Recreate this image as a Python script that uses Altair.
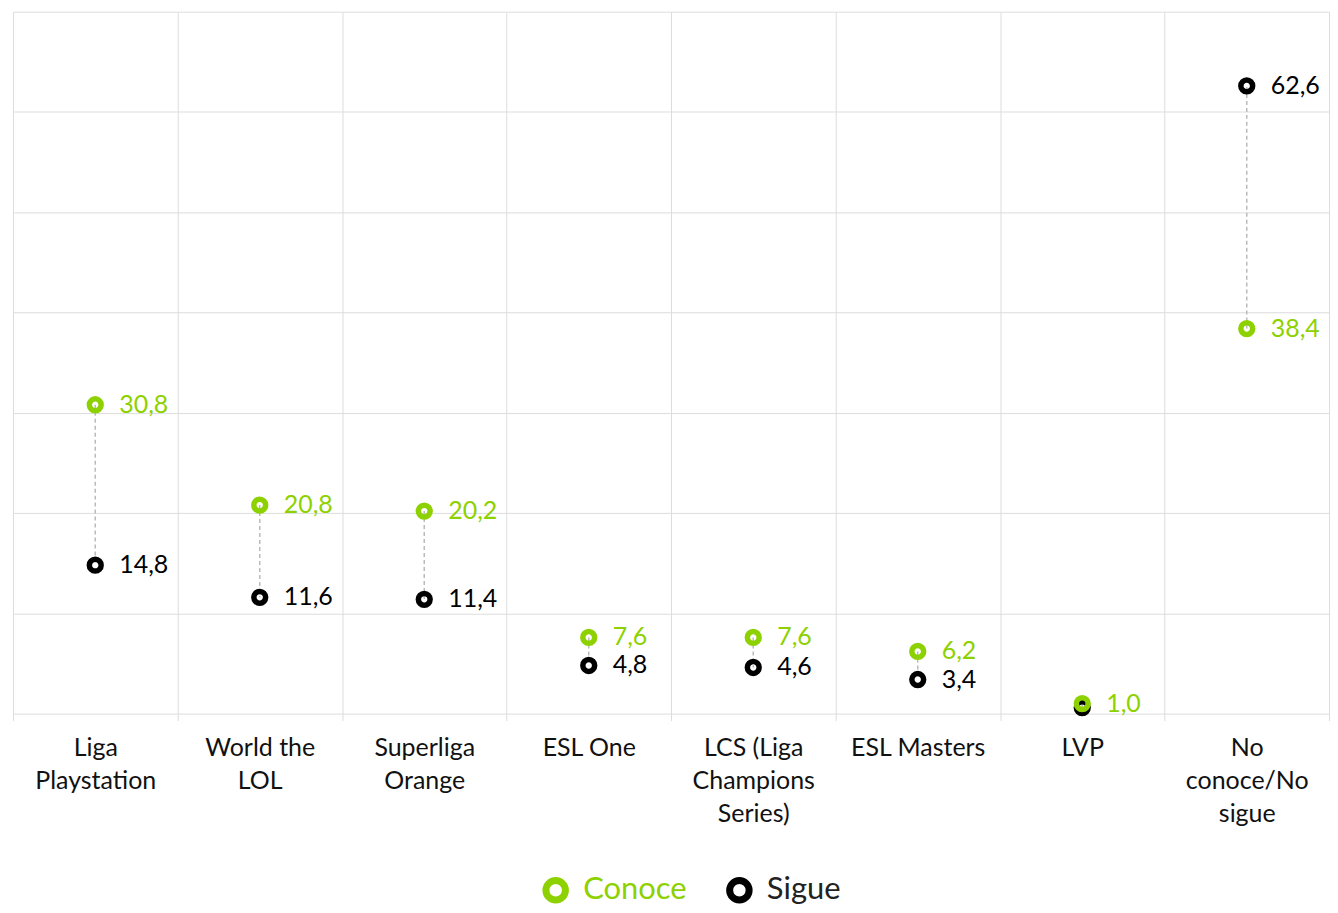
import altair as alt
import pandas as pd

categories = ["Liga|Playstation", "World the|LOL", "Superliga|Orange", "ESL One",
              "LCS  (Liga|Champions|Series)", "ESL Masters", "LVP", "No|conoce/No|sigue"]
conoce = [30.8, 20.8, 20.2, 7.6, 7.6, 6.2, 1.0, 38.4]
sigue = [14.8, 11.6, 11.4, 4.8, 4.6, 3.4, 0.6, 62.6]
sigue_labels = ["14,8", "11,6", "11,4", "4,8", "4,6", "3,4", "", "62,6"]
conoce_labels = ["30,8", "20,8", "20,2", "7,6", "7,6", "6,2", "1,0", "38,4"]

GREEN = "#8DD100"
BLACK = "#000000"
FONT = "Lato"

wide = pd.DataFrame({"cat": categories, "conoce": conoce, "sigue": sigue})
long_rows = []
for c, v, l in zip(categories, sigue, sigue_labels):
    long_rows.append({"cat": c, "serie": "Sigue", "value": v, "label": l, "order": 0})
for c, v, l in zip(categories, conoce, conoce_labels):
    long_rows.append({"cat": c, "serie": "Conoce", "value": v, "label": l, "order": 1})
long = pd.DataFrame(long_rows)

x = alt.X("cat:N", sort=categories, title=None,
          scale=alt.Scale(paddingInner=0, paddingOuter=0),
          axis=alt.Axis(labelExpr="split(datum.label, '|')", labelAngle=0,
                        labelFontSize=25, labelColor="#111", labelFont=FONT,
                        labelLineHeight=33, labelPadding=15, labelBaseline="top",
                        tickBand="extent", tickColor="#ddd", tickSize=7, tickWidth=1,
                        domain=False, grid=True, gridColor="#ddd", gridWidth=1))
y_scale = alt.Scale(domain=[0, 70], nice=False)
y_axis = alt.Axis(values=[0, 10, 20, 30, 40, 50, 60, 70], labels=False, ticks=False,
                  domain=False, grid=True, gridColor="#ddd", gridWidth=1, title=None)

color = alt.Color("serie:N", scale=alt.Scale(domain=["Conoce", "Sigue"], range=[GREEN, BLACK]),
                  title=None,
                  legend=alt.Legend(orient="none", direction="horizontal",
                                    legendX=528, legendY=864,
                                    symbolType="circle", symbolSize=380, symbolStrokeWidth=7,
                                    labelFontSize=31, labelFont=FONT,
                                    labelColor=alt.ExprRef("datum.label == 'Conoce' ? '" + GREEN + "' : '#222'"),
                                    columnPadding=28, symbolOffset=0, labelOffset=12, padding=0))

rules = alt.Chart(wide).mark_rule(color="#bbb", strokeDash=[4, 3], strokeWidth=1.5).encode(
    x=x,
    y=alt.Y("conoce:Q", scale=y_scale, axis=y_axis),
    y2="sigue:Q",
)

points = alt.Chart(long).mark_point(filled=False, size=140, strokeWidth=5.5, opacity=1).encode(
    x=x,
    y=alt.Y("value:Q", scale=y_scale, axis=y_axis),
    color=color,
    order="order:Q",
)

texts = alt.Chart(long).mark_text(align="left", baseline="middle", dx=24, fontSize=25, font=FONT).encode(
    x=x,
    y=alt.Y("value:Q", scale=y_scale),
    text="label:N",
    color=alt.condition("datum.serie == 'Conoce'", alt.value(GREEN), alt.value(BLACK)),
)

chart = alt.layer(rules, points, texts).properties(
    width=1318, height=703,
    padding={"left": 4, "top": 3, "right": 0, "bottom": 0},
).configure_view(stroke=None).configure_axis(labelFont=FONT)

chart.save("out.html", embed_options={"renderer": "svg", "actions": False})
